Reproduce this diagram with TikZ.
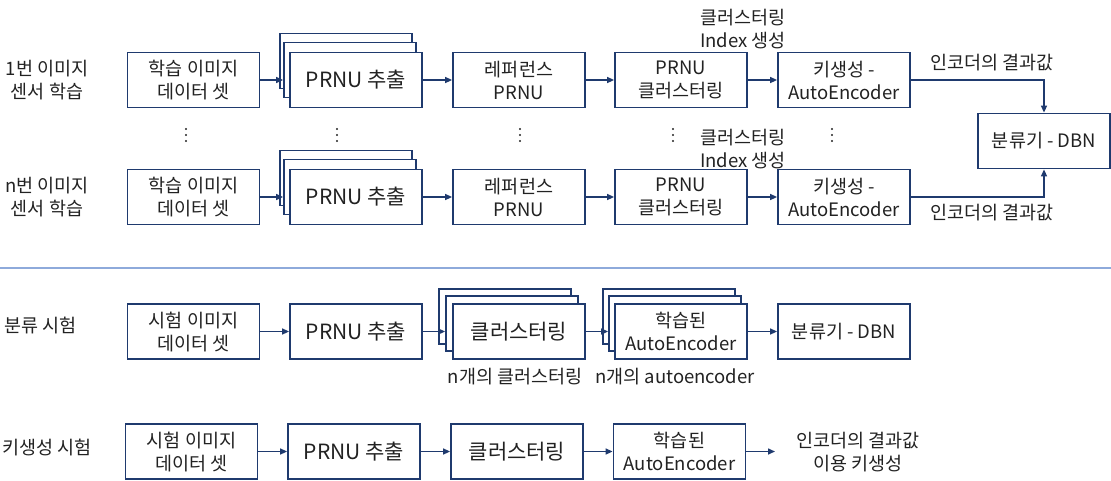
\documentclass[tikz,border=0pt]{standalone}
\usepackage{fontspec}
\setmainfont{Noto Sans CJK KR}
\usetikzlibrary{arrows.meta}
\definecolor{navy}{HTML}{1F3A6E}
\definecolor{sepline}{HTML}{8EAADB}
\definecolor{txt}{HTML}{222222}
\begin{document}
\begin{tikzpicture}[x=1pt,y=-1pt,
  box/.style={draw=navy, line width=1.8pt, fill=white, minimum width=132pt, minimum height=55pt, inner sep=0pt, align=center, text=txt, font=\fontsize{18.5}{23}\selectfont},
  big/.style={font=\fontsize{21}{24}\selectfont},
  mid/.style={font=\fontsize{18.5}{24}\selectfont},
  arr/.style={draw=navy, line width=1.5pt, -{Triangle[length=7pt,width=6pt]}},
  lbl/.style={text=txt, align=center, font=\fontsize{18.5}{23.5}\selectfont, inner sep=0pt},
  vdot/.style={fill=txt, draw=none, circle, inner sep=0pt, minimum size=2.2pt}]
\useasboundingbox (0,0) rectangle (1111,480);

% ---------- training rows ----------
\foreach \r/\y/\lab in {a/80/1, b/197/n}{
  \node[lbl] (left\r) at (47,\y) {\lab 번 이미지\\센서 학습};
  \node[box] (data\r) at (193.5,\y) {학습 이미지\\데이터 셋};
  \node[box] (prnuA\r) at (346,\y-19) {};
  \node[box] (prnuB\r) at (350,\y-10) {};
  \node[box,big] (prnu\r) at (356,\y) {PRNU 추출};
  \node[box] (ref\r) at (519,\y) {레퍼런스\\PRNU};
  \node[box] (clus\r) at (681,\y) {PRNU\\클러스터링};
  \node[box] (key\r) at (844,\y) {키생성 -\\AutoEncoder};
  \draw[arr] (data\r.east) -- (prnuB\r.west |- data\r.east);
  \draw[arr] (prnu\r) -- (ref\r);
  \draw[arr] (ref\r) -- (clus\r);
  \draw[arr] (clus\r) -- (key\r);
}
\node[lbl] (idxa) at (743,29) {클러스터링\\Index 생성};
\node[lbl] (idxb) at (743,149) {클러스터링\\Index 생성};
\node[box,mid] (dbn) at (1044,141) {분류기 - DBN};
\draw[arr] (keya.east) -| (dbn.north);
\draw[arr] (keyb.east) -| (dbn.south);
\node[lbl] (enca) at (992,63) {인코더의 결과값};
\node[lbl] (encb) at (992,213) {인코더의 결과값};

% vertical dots
\foreach \x in {186,337,520,673,832}{
  \node[vdot] at (\x,129) {};
  \node[vdot] at (\x,135) {};
  \node[vdot] at (\x,141) {};
}

% separator
\draw[sepline, line width=1.2pt] (0,268) -- (1111,268);

% ---------- classification test ----------
\node[lbl] (leftc) at (40.5,325) {분류 시험};
\node[box] (datac) at (193.5,331.5) {시험 이미지\\데이터 셋};
\node[box,big] (prnuc) at (356,331.5) {PRNU 추출};
\node[box] (clusAc) at (505,316.5) {};
\node[box] (clusBc) at (512,323.5) {};
\node[box,big] (clusc) at (519,331.5) {클러스터링};
\node[box] (aeAc) at (669,316.5) {};
\node[box] (aeBc) at (675,323.5) {};
\node[box] (aec) at (681,331.5) {학습된\\AutoEncoder};
\node[box,mid] (dbnc) at (844,331.5) {분류기 - DBN};
\node[lbl] (nclus) at (515,377) {n개의 클러스터링};
\node[lbl] (nae) at (675,377) {n개의 autoencoder};
\draw[arr] (datac) -- (prnuc);
\draw[arr] (prnuc.east) -- (clusBc.west |- prnuc.east);
\draw[arr] (clusc.east) -- (aeBc.west |- clusc.east);
\draw[arr] (aec) -- (dbnc);

% ---------- key generation test ----------
\node[lbl] (leftd) at (47,447) {키생성 시험};
\node[box] (datad) at (191.5,451.5) {시험 이미지\\데이터 셋};
\node[box,big] (prnud) at (354,451.5) {PRNU 추출};
\node[box,big] (clusd) at (517,451.5) {클러스터링};
\node[box] (aed) at (679.5,451.5) {학습된\\AutoEncoder};
\coordinate (endd) at (775,451.5);
\node[lbl] (resd) at (858,452) {인코더의 결과값\\이용 키생성};
\draw[arr] (datad) -- (prnud);
\draw[arr] (prnud) -- (clusd);
\draw[arr] (clusd) -- (aed);
\draw[arr] (aed.east) -- (endd);
\end{tikzpicture}
\end{document}
